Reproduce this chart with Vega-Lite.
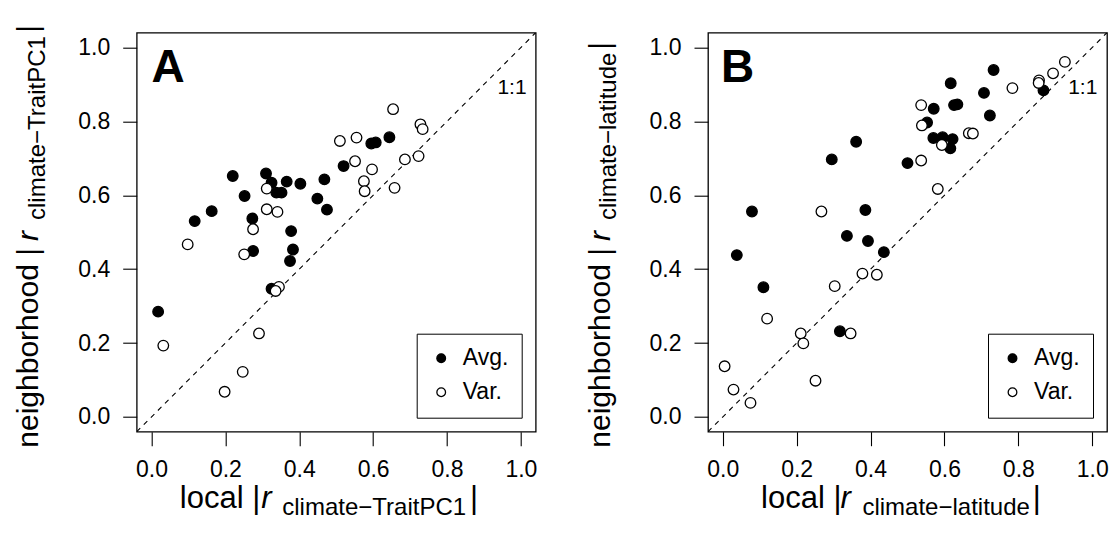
{
  "$schema": "https://vega.github.io/schema/vega-lite/v6.json",
  "autosize": {"type": "none"},
  "padding": {"left": 136.7, "top": 32.7, "right": 976.3, "bottom": 513.3},
  "background": "white",
  "spacing": 172.3,
  "bounds": "flush",
  "datasets": {
    "A": [
      {"type": "Avg.", "local": 0.018, "neighborhood": 0.285},
      {"type": "Avg.", "local": 0.117, "neighborhood": 0.530},
      {"type": "Avg.", "local": 0.163, "neighborhood": 0.557},
      {"type": "Avg.", "local": 0.220, "neighborhood": 0.652},
      {"type": "Avg.", "local": 0.252, "neighborhood": 0.598},
      {"type": "Avg.", "local": 0.273, "neighborhood": 0.537},
      {"type": "Avg.", "local": 0.275, "neighborhood": 0.449},
      {"type": "Avg.", "local": 0.310, "neighborhood": 0.659},
      {"type": "Avg.", "local": 0.325, "neighborhood": 0.634},
      {"type": "Avg.", "local": 0.338, "neighborhood": 0.607},
      {"type": "Avg.", "local": 0.352, "neighborhood": 0.607},
      {"type": "Avg.", "local": 0.325, "neighborhood": 0.347},
      {"type": "Avg.", "local": 0.366, "neighborhood": 0.637},
      {"type": "Avg.", "local": 0.378, "neighborhood": 0.503},
      {"type": "Avg.", "local": 0.383, "neighborhood": 0.453},
      {"type": "Avg.", "local": 0.375, "neighborhood": 0.422},
      {"type": "Avg.", "local": 0.403, "neighborhood": 0.631},
      {"type": "Avg.", "local": 0.449, "neighborhood": 0.591},
      {"type": "Avg.", "local": 0.468, "neighborhood": 0.643},
      {"type": "Avg.", "local": 0.475, "neighborhood": 0.561},
      {"type": "Avg.", "local": 0.520, "neighborhood": 0.679},
      {"type": "Avg.", "local": 0.595, "neighborhood": 0.740},
      {"type": "Avg.", "local": 0.607, "neighborhood": 0.743},
      {"type": "Avg.", "local": 0.644, "neighborhood": 0.757},
      {"type": "Var.", "local": 0.032, "neighborhood": 0.193},
      {"type": "Var.", "local": 0.098, "neighborhood": 0.467},
      {"type": "Var.", "local": 0.198, "neighborhood": 0.068},
      {"type": "Var.", "local": 0.247, "neighborhood": 0.122},
      {"type": "Var.", "local": 0.251, "neighborhood": 0.440},
      {"type": "Var.", "local": 0.275, "neighborhood": 0.508},
      {"type": "Var.", "local": 0.291, "neighborhood": 0.226},
      {"type": "Var.", "local": 0.312, "neighborhood": 0.618},
      {"type": "Var.", "local": 0.312, "neighborhood": 0.562},
      {"type": "Var.", "local": 0.341, "neighborhood": 0.555},
      {"type": "Var.", "local": 0.345, "neighborhood": 0.352},
      {"type": "Var.", "local": 0.336, "neighborhood": 0.341},
      {"type": "Var.", "local": 0.510, "neighborhood": 0.747},
      {"type": "Var.", "local": 0.555, "neighborhood": 0.756},
      {"type": "Var.", "local": 0.551, "neighborhood": 0.692},
      {"type": "Var.", "local": 0.597, "neighborhood": 0.670},
      {"type": "Var.", "local": 0.575, "neighborhood": 0.638},
      {"type": "Var.", "local": 0.577, "neighborhood": 0.611},
      {"type": "Var.", "local": 0.654, "neighborhood": 0.833},
      {"type": "Var.", "local": 0.658, "neighborhood": 0.620},
      {"type": "Var.", "local": 0.686, "neighborhood": 0.697},
      {"type": "Var.", "local": 0.723, "neighborhood": 0.706},
      {"type": "Var.", "local": 0.728, "neighborhood": 0.792},
      {"type": "Var.", "local": 0.734, "neighborhood": 0.779}
    ],
    "B": [
      {"type": "Avg.", "local": 0.038, "neighborhood": 0.438},
      {"type": "Avg.", "local": 0.079, "neighborhood": 0.556},
      {"type": "Avg.", "local": 0.110, "neighborhood": 0.351},
      {"type": "Avg.", "local": 0.295, "neighborhood": 0.697},
      {"type": "Avg.", "local": 0.317, "neighborhood": 0.232},
      {"type": "Avg.", "local": 0.336, "neighborhood": 0.490},
      {"type": "Avg.", "local": 0.361, "neighborhood": 0.745},
      {"type": "Avg.", "local": 0.386, "neighborhood": 0.560},
      {"type": "Avg.", "local": 0.393, "neighborhood": 0.476},
      {"type": "Avg.", "local": 0.436, "neighborhood": 0.446},
      {"type": "Avg.", "local": 0.500, "neighborhood": 0.687},
      {"type": "Avg.", "local": 0.553, "neighborhood": 0.797},
      {"type": "Avg.", "local": 0.571, "neighborhood": 0.834},
      {"type": "Avg.", "local": 0.570, "neighborhood": 0.755},
      {"type": "Avg.", "local": 0.595, "neighborhood": 0.757},
      {"type": "Avg.", "local": 0.622, "neighborhood": 0.752},
      {"type": "Avg.", "local": 0.616, "neighborhood": 0.727},
      {"type": "Avg.", "local": 0.617, "neighborhood": 0.903},
      {"type": "Avg.", "local": 0.626, "neighborhood": 0.844},
      {"type": "Avg.", "local": 0.635, "neighborhood": 0.846},
      {"type": "Avg.", "local": 0.707, "neighborhood": 0.877},
      {"type": "Avg.", "local": 0.723, "neighborhood": 0.816},
      {"type": "Avg.", "local": 0.733, "neighborhood": 0.939},
      {"type": "Avg.", "local": 0.868, "neighborhood": 0.884},
      {"type": "Var.", "local": 0.005, "neighborhood": 0.137},
      {"type": "Var.", "local": 0.029, "neighborhood": 0.074},
      {"type": "Var.", "local": 0.075, "neighborhood": 0.038},
      {"type": "Var.", "local": 0.120, "neighborhood": 0.266},
      {"type": "Var.", "local": 0.211, "neighborhood": 0.226},
      {"type": "Var.", "local": 0.218, "neighborhood": 0.199},
      {"type": "Var.", "local": 0.251, "neighborhood": 0.098},
      {"type": "Var.", "local": 0.267, "neighborhood": 0.556},
      {"type": "Var.", "local": 0.303, "neighborhood": 0.354},
      {"type": "Var.", "local": 0.346, "neighborhood": 0.226},
      {"type": "Var.", "local": 0.378, "neighborhood": 0.388},
      {"type": "Var.", "local": 0.417, "neighborhood": 0.385},
      {"type": "Var.", "local": 0.537, "neighborhood": 0.844},
      {"type": "Var.", "local": 0.539, "neighborhood": 0.789},
      {"type": "Var.", "local": 0.537, "neighborhood": 0.694},
      {"type": "Var.", "local": 0.582, "neighborhood": 0.617},
      {"type": "Var.", "local": 0.593, "neighborhood": 0.736},
      {"type": "Var.", "local": 0.666, "neighborhood": 0.768},
      {"type": "Var.", "local": 0.677, "neighborhood": 0.767},
      {"type": "Var.", "local": 0.784, "neighborhood": 0.890},
      {"type": "Var.", "local": 0.856, "neighborhood": 0.911},
      {"type": "Var.", "local": 0.855, "neighborhood": 0.904},
      {"type": "Var.", "local": 0.894, "neighborhood": 0.930},
      {"type": "Var.", "local": 0.926, "neighborhood": 0.961}
    ]
  },
  "config": {
    "font": "Liberation Sans",
    "view": {"stroke": "black", "strokeWidth": 1.3},
    "axis": {
      "grid": false,
      "domain": false,
      "ticks": true,
      "tickSize": 14,
      "tickColor": "black",
      "tickWidth": 1.1,
      "labelFont": "Liberation Sans",
      "labelFontSize": 23,
      "labelColor": "black",
      "labelFlush": false,
      "labelOverlap": false,
      "labelBound": false
    },
    "axisX": {"labelPadding": 13},
    "axisY": {"labelPadding": 13},
    "legend": {
      "orient": "bottom-right",
      "offset": 14,
      "strokeColor": "black",
      "fillColor": "white",
      "padding": 13,
      "cornerRadius": 0,
      "labelFont": "Liberation Sans",
      "labelFontSize": 23,
      "labelColor": "black",
      "labelOffset": 10,
      "rowPadding": 10,
      "symbolType": "circle",
      "symbolSize": 75,
      "symbolStrokeColor": "black",
      "symbolStrokeWidth": 1.3,
      "title": null
    }
  },
  "resolve": {
    "scale": {"fill": "independent", "x": "independent", "y": "independent"},
    "legend": {"fill": "independent"}
  },
  "hconcat": [
    {
      "width": 399,
      "height": 399,
      "layer": [
        {
          "data": {"values": [{}]},
          "mark": {"type": "rule", "strokeDash": [5, 5], "strokeWidth": 1.1, "color": "black", "clip": true},
          "encoding": {
            "x": {"datum": -0.04, "type": "quantitative", "scale": {"domain": [-0.04, 1.04], "nice": false, "zero": false}, "axis": {"values": [0, 0.2, 0.4, 0.6, 0.8, 1.0], "format": ".1f", "title": null}},
            "y": {"datum": -0.04, "type": "quantitative", "scale": {"domain": [-0.04, 1.04], "nice": false, "zero": false}, "axis": {"values": [0, 0.2, 0.4, 0.6, 0.8, 1.0], "format": ".1f", "title": null}},
            "x2": {"datum": 1.04},
            "y2": {"datum": 1.04}
          }
        },
        {
          "data": {"name": "A"},
          "mark": {"type": "point", "shape": "circle", "filled": true, "size": 112, "stroke": "black", "strokeWidth": 1.3, "opacity": 1},
          "encoding": {
            "x": {"field": "local", "type": "quantitative"},
            "y": {"field": "neighborhood", "type": "quantitative"},
            "fill": {"field": "type", "type": "nominal", "scale": {"domain": ["Avg.", "Var."], "range": ["black", "white"]}}
          }
        },
        {
          "data": {"values": [{}]},
          "mark": {"type": "text", "text": "A", "align": "left", "baseline": "alphabetic", "fontSize": 46, "fontWeight": "bold", "color": "black"},
          "encoding": {"x": {"datum": 0.0}, "y": {"datum": 0.907}}
        },
        {
          "data": {"values": [{}]},
          "mark": {"type": "text", "text": "1:1", "align": "right", "baseline": "alphabetic", "fontSize": 21, "color": "black"},
          "encoding": {"x": {"datum": 1.0155}, "y": {"datum": 0.8734}}
        },
        {
          "data": {"values": [{}]},
          "mark": {"type": "text", "text": "local |", "align": "left", "baseline": "alphabetic", "fontSize": 31, "color": "black"},
          "encoding": {"x": {"datum": 0.0766}, "y": {"datum": -0.2458}}
        },
        {
          "data": {"values": [{}]},
          "mark": {"type": "text", "text": "r", "align": "left", "baseline": "alphabetic", "fontSize": 31, "fontStyle": "italic", "color": "black"},
          "encoding": {"x": {"datum": 0.297}, "y": {"datum": -0.2458}}
        },
        {
          "data": {"values": [{}]},
          "mark": {"type": "text", "text": "climate−TraitPC1", "align": "left", "baseline": "alphabetic", "fontSize": 24, "color": "black"},
          "encoding": {"x": {"datum": 0.354}, "y": {"datum": -0.2648}}
        },
        {
          "data": {"values": [{}]},
          "mark": {"type": "text", "text": "|", "align": "left", "baseline": "alphabetic", "fontSize": 31, "color": "black"},
          "encoding": {"x": {"datum": 0.862}, "y": {"datum": -0.2458}}
        },
        {
          "data": {"values": [{}]},
          "mark": {"type": "text", "text": "neighborhood |", "angle": 270, "align": "left", "baseline": "alphabetic", "fontSize": 30, "color": "black"},
          "encoding": {"x": {"datum": -0.3065}, "y": {"datum": -0.0832}}
        },
        {
          "data": {"values": [{}]},
          "mark": {"type": "text", "text": "r", "angle": 270, "align": "left", "baseline": "alphabetic", "fontSize": 30, "fontStyle": "italic", "color": "black"},
          "encoding": {"x": {"datum": -0.3065}, "y": {"datum": 0.4764}}
        },
        {
          "data": {"values": [{}]},
          "mark": {"type": "text", "text": "climate−TraitPC1", "angle": 270, "align": "left", "baseline": "alphabetic", "fontSize": 24, "color": "black"},
          "encoding": {"x": {"datum": -0.2884}, "y": {"datum": 0.533}}
        },
        {
          "data": {"values": [{}]},
          "mark": {"type": "text", "text": "|", "angle": 270, "align": "left", "baseline": "alphabetic", "fontSize": 30, "color": "black"},
          "encoding": {"x": {"datum": -0.3065}, "y": {"datum": 1.04}}
        }
      ]
    },
    {
      "width": 399,
      "height": 399,
      "layer": [
        {
          "data": {"values": [{}]},
          "mark": {"type": "rule", "strokeDash": [5, 5], "strokeWidth": 1.1, "color": "black", "clip": true},
          "encoding": {
            "x": {"datum": -0.04, "type": "quantitative", "scale": {"domain": [-0.04, 1.04], "nice": false, "zero": false}, "axis": {"values": [0, 0.2, 0.4, 0.6, 0.8, 1.0], "format": ".1f", "title": null}},
            "y": {"datum": -0.04, "type": "quantitative", "scale": {"domain": [-0.04, 1.04], "nice": false, "zero": false}, "axis": {"values": [0, 0.2, 0.4, 0.6, 0.8, 1.0], "format": ".1f", "title": null}},
            "x2": {"datum": 1.04},
            "y2": {"datum": 1.04}
          }
        },
        {
          "data": {"name": "B"},
          "mark": {"type": "point", "shape": "circle", "filled": true, "size": 112, "stroke": "black", "strokeWidth": 1.3, "opacity": 1},
          "encoding": {
            "x": {"field": "local", "type": "quantitative"},
            "y": {"field": "neighborhood", "type": "quantitative"},
            "fill": {"field": "type", "type": "nominal", "scale": {"domain": ["Avg.", "Var."], "range": ["black", "white"]}}
          }
        },
        {
          "data": {"values": [{}]},
          "mark": {"type": "text", "text": "B", "align": "left", "baseline": "alphabetic", "fontSize": 46, "fontWeight": "bold", "color": "black"},
          "encoding": {"x": {"datum": -0.005}, "y": {"datum": 0.907}}
        },
        {
          "data": {"values": [{}]},
          "mark": {"type": "text", "text": "1:1", "align": "right", "baseline": "alphabetic", "fontSize": 21, "color": "black"},
          "encoding": {"x": {"datum": 1.014}, "y": {"datum": 0.8734}}
        },
        {
          "data": {"values": [{}]},
          "mark": {"type": "text", "text": "local |", "align": "left", "baseline": "alphabetic", "fontSize": 31, "color": "black"},
          "encoding": {"x": {"datum": 0.1035}, "y": {"datum": -0.2458}}
        },
        {
          "data": {"values": [{}]},
          "mark": {"type": "text", "text": "r", "align": "left", "baseline": "alphabetic", "fontSize": 31, "fontStyle": "italic", "color": "black"},
          "encoding": {"x": {"datum": 0.3186}, "y": {"datum": -0.2458}}
        },
        {
          "data": {"values": [{}]},
          "mark": {"type": "text", "text": "climate−latitude", "align": "left", "baseline": "alphabetic", "fontSize": 24, "color": "black"},
          "encoding": {"x": {"datum": 0.378}, "y": {"datum": -0.2648}}
        },
        {
          "data": {"values": [{}]},
          "mark": {"type": "text", "text": "|", "align": "left", "baseline": "alphabetic", "fontSize": 31, "color": "black"},
          "encoding": {"x": {"datum": 0.839}, "y": {"datum": -0.2458}}
        },
        {
          "data": {"values": [{}]},
          "mark": {"type": "text", "text": "neighborhood |", "angle": 270, "align": "left", "baseline": "alphabetic", "fontSize": 30, "color": "black"},
          "encoding": {"x": {"datum": -0.306}, "y": {"datum": -0.0832}}
        },
        {
          "data": {"values": [{}]},
          "mark": {"type": "text", "text": "r", "angle": 270, "align": "left", "baseline": "alphabetic", "fontSize": 30, "fontStyle": "italic", "color": "black"},
          "encoding": {"x": {"datum": -0.306}, "y": {"datum": 0.4764}}
        },
        {
          "data": {"values": [{}]},
          "mark": {"type": "text", "text": "climate−latitude", "angle": 270, "align": "left", "baseline": "alphabetic", "fontSize": 24, "color": "black"},
          "encoding": {"x": {"datum": -0.288}, "y": {"datum": 0.533}}
        },
        {
          "data": {"values": [{}]},
          "mark": {"type": "text", "text": "|", "angle": 270, "align": "left", "baseline": "alphabetic", "fontSize": 30, "color": "black"},
          "encoding": {"x": {"datum": -0.306}, "y": {"datum": 0.994}}
        }
      ]
    }
  ]
}
